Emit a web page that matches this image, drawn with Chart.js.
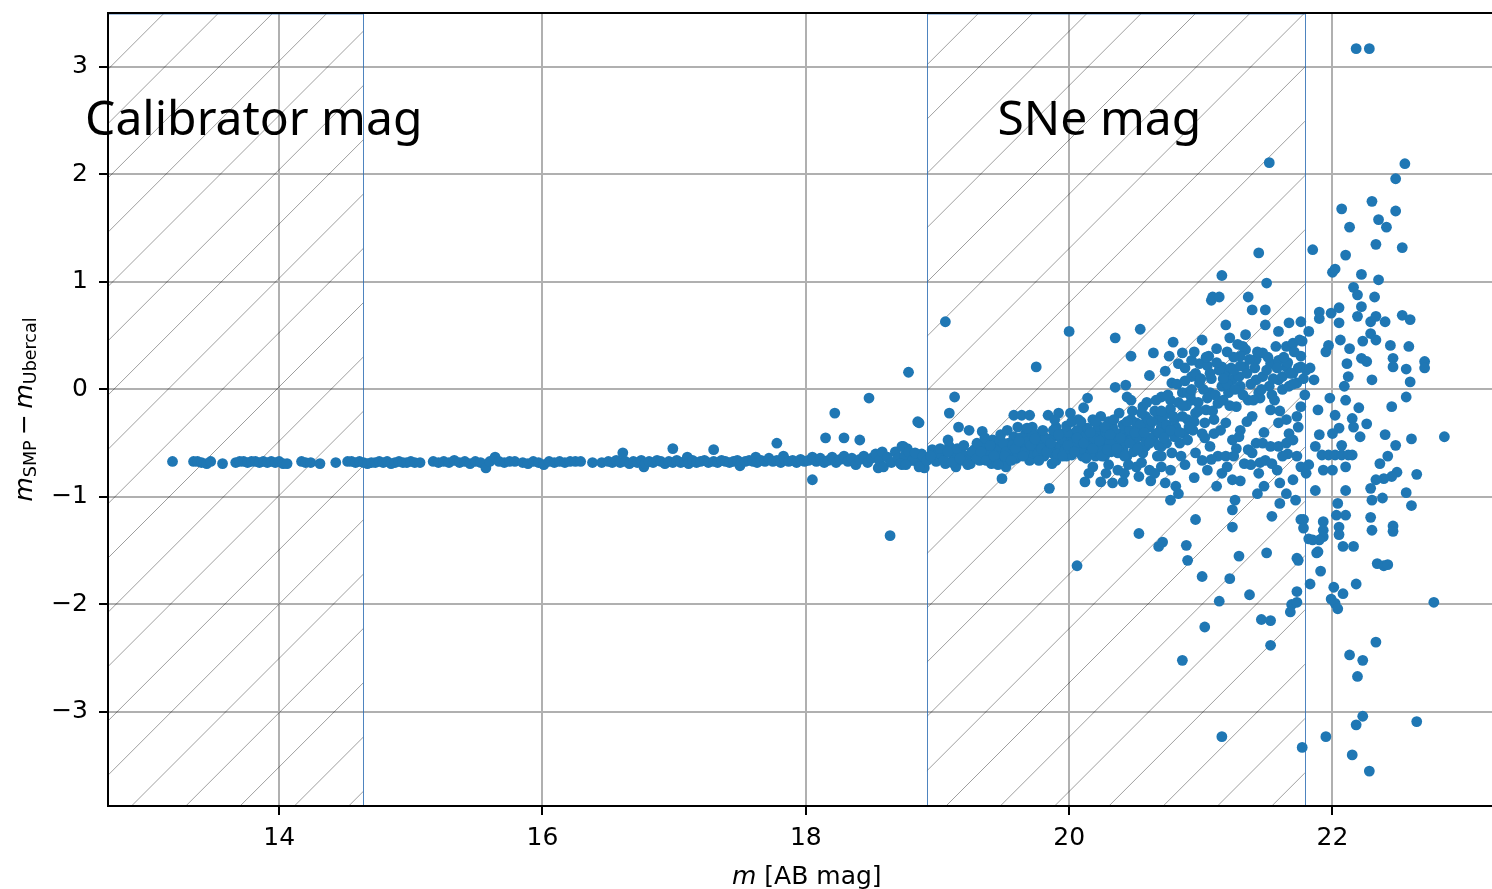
<!DOCTYPE html>
<html>
<head>
<meta charset="utf-8">
<style>
  html, body { margin: 0; padding: 0; background: #ffffff; overflow: hidden; }
  #wrap { width: 1492px; height: 889px; overflow: hidden; position: relative; }
  canvas { display: block; }
</style>
<script src="https://cdn.jsdelivr.net/npm/chart.js@4/dist/chart.umd.min.js"></script>
</head>
<body>
<div id="wrap"><canvas id="chart" width="1511" height="889"></canvas></div>
<script>
// ---- data: [m (AB mag), m_SMP - m_Ubercal] ----
const calibratorStars = [
  [13.19,-0.67],[13.35,-0.67],[13.38,-0.67],[13.41,-0.68],[13.45,-0.69],[13.48,-0.67],[13.57,-0.69],
  [13.67,-0.68],[13.70,-0.67],[13.73,-0.67],[13.76,-0.68],[13.79,-0.67],[13.82,-0.67],[13.85,-0.68],
  [13.88,-0.67],[13.91,-0.68],[13.94,-0.67],[13.97,-0.68],[14.00,-0.67],[14.03,-0.69],[14.06,-0.69],
  [14.17,-0.67],[14.20,-0.68],[14.24,-0.68],[14.31,-0.69],[14.43,-0.68],[14.52,-0.67],[14.55,-0.67],
  [14.58,-0.68],[14.61,-0.67],[14.64,-0.68],[14.67,-0.69],[14.70,-0.68],[14.73,-0.68],[14.76,-0.67],
  [14.79,-0.68],[14.82,-0.67],[14.85,-0.69],[14.88,-0.68],[14.91,-0.67],[14.94,-0.68],[14.97,-0.68],
  [15.00,-0.67],[15.03,-0.68],[15.07,-0.68],[15.17,-0.67],[15.21,-0.68],[15.25,-0.67],[15.29,-0.68],
  [15.33,-0.66],[15.37,-0.68],[15.41,-0.67],[15.45,-0.69],[15.49,-0.67],[15.53,-0.68],[15.57,-0.73],
  [15.60,-0.67],[15.64,-0.63],[15.67,-0.67],[15.71,-0.68],[15.75,-0.67],[15.79,-0.67],[15.85,-0.68],
  [15.89,-0.69],[15.93,-0.67],[15.97,-0.68],[16.01,-0.70],[16.05,-0.67],[16.09,-0.68],[16.13,-0.67],
  [16.17,-0.68],[16.21,-0.67],[16.25,-0.67],[16.29,-0.67],[16.38,-0.68],[16.45,-0.68]
];

const midStars = [
  [16.50,-0.67],[16.53,-0.68],[16.56,-0.66],[16.59,-0.68],[16.61,-0.59],[16.63,-0.67],[16.66,-0.69],
  [16.69,-0.67],[16.72,-0.68],[16.75,-0.66],[16.77,-0.72],[16.78,-0.69],[16.81,-0.67],[16.84,-0.68],
  [16.87,-0.66],[16.90,-0.67],[16.93,-0.69],[16.96,-0.67],[16.99,-0.55],[16.99,-0.68],[17.02,-0.66],
  [17.05,-0.68],[17.08,-0.67],[17.10,-0.63],[17.11,-0.69],[17.14,-0.66],[17.17,-0.68],[17.20,-0.67],
  [17.23,-0.66],[17.26,-0.68],[17.30,-0.56],[17.30,-0.67],[17.33,-0.68],[17.36,-0.66],[17.39,-0.67],
  [17.42,-0.68],[17.45,-0.67],[17.48,-0.66],[17.50,-0.71],[17.51,-0.68],[17.54,-0.67],[17.57,-0.66],
  [17.60,-0.67],[17.62,-0.63],[17.63,-0.68],[17.66,-0.66],[17.69,-0.67],[17.72,-0.64],[17.75,-0.67],
  [17.78,-0.50],[17.78,-0.66],[17.81,-0.68],[17.83,-0.62],[17.84,-0.65],[17.87,-0.67],[17.90,-0.66],
  [17.93,-0.68],[17.96,-0.65],[17.99,-0.67]
];

const transitionStars = [
  [18.02,-0.66],[18.05,-0.84],[18.05,-0.63],[18.08,-0.67],[18.11,-0.64],[18.14,-0.68],[18.15,-0.45],
  [18.17,-0.66],[18.20,-0.63],[18.22,-0.22],[18.23,-0.68],[18.26,-0.65],[18.29,-0.45],[18.29,-0.62],
  [18.32,-0.67],[18.35,-0.64],[18.38,-0.70],[18.41,-0.47],[18.41,-0.65],[18.44,-0.62],[18.47,-0.68],
  [18.48,-0.08],[18.50,-0.64],[18.53,-0.60],[18.55,-0.73],[18.56,-0.66],[18.58,-0.58],[18.59,-0.72],
  [18.62,-0.63],[18.64,-1.36],[18.65,-0.68],[18.68,-0.58],[18.70,-0.64],[18.73,-0.70],[18.74,-0.53],
  [18.76,-0.60],[18.77,-0.55],[18.79,-0.66],[18.82,-0.62],[18.85,-0.30],[18.85,-0.68],[18.88,-0.60],
  [18.90,-0.73],[18.78,0.16]
];

const sneCloud = [
  [18.73,-0.53],[18.75,-0.62],[18.78,-0.58],[18.81,-0.66],[18.83,-0.59],[18.86,-0.72],[18.89,-0.62],
  [18.92,-0.66],[18.72,-0.69],[18.76,-0.70],[18.86,-0.31],
  [18.96,-0.56],[18.99,-0.67],[19.04,-0.62],[19.06,-0.69],[19.09,-0.53],[19.12,-0.62],[19.14,-0.72],
  [19.09,-0.22],[19.13,-0.07],[19.08,-0.47],[19.01,-0.59],[18.95,-0.62],[19.06,0.63],
  [19.18,-0.59],[19.22,-0.62],[19.25,-0.69],[19.28,-0.56],[19.32,-0.66],[19.35,-0.53],[19.38,-0.59],
  [19.41,-0.69],[19.44,-0.53],[19.34,-0.39],[19.24,-0.38],[19.16,-0.35],[19.42,-0.47],[19.29,-0.62],
  [19.19,-0.66],
  [19.47,-0.56],[19.49,-0.66],[19.52,-0.72],[19.55,-0.59],[19.58,-0.44],[19.61,-0.35],[19.64,-0.53],
  [19.67,-0.41],[19.70,-0.66],[19.72,-0.59],[19.49,-0.83],[19.58,-0.24],[19.64,-0.24],[19.70,-0.24],
  [19.72,-0.35],[19.47,-0.47],[19.54,-0.50],[19.61,-0.62],[19.67,-0.50],[19.75,0.21],
  [19.75,-0.53],[19.78,-0.41],[19.81,-0.62],[19.84,-0.47],[19.87,-0.69],[19.90,-0.35],[19.92,-0.53],
  [19.95,-0.41],[19.98,-0.62],[20.01,-0.47],[19.84,-0.24],[19.92,-0.22],[20.01,-0.22],[19.85,-0.92],
  [19.87,-0.59],[20.02,-0.61],[19.80,-0.50],[19.88,-0.44],[19.97,-0.50],[20.00,0.54],[19.90,-0.66],
  [20.04,-0.41],[20.07,-0.50],[20.10,-0.35],[20.13,-0.56],[20.15,-0.47],[20.18,-0.28],[20.21,-0.53],
  [20.24,-0.41],[20.27,-0.62],[20.29,-0.47],[20.14,-0.08],[20.11,-0.17],[20.12,-0.86],[20.18,-0.72],
  [20.24,-0.86],[20.28,-0.78],[20.07,-0.28],[20.24,-0.25],[20.08,-0.44],[20.17,-0.53],[20.21,-0.38],
  [20.27,-0.53],[20.05,-0.56],[20.20,-0.62],[20.10,-0.62],
  [20.33,-0.35],[20.35,-0.47],[20.38,-0.22],[20.41,-0.56],[20.44,-0.41],[20.47,-0.28],[20.50,-0.50],
  [20.53,-0.38],[20.56,-0.59],[20.33,-0.87],[20.37,-0.75],[20.41,-0.86],[20.51,-0.72],[20.53,-0.81],
  [20.35,0.02],[20.43,0.04],[20.47,-0.10],[20.56,-0.16],[20.44,-0.07],[20.58,-0.25],[20.35,0.48],
  [20.54,0.56],[20.47,0.31],[20.31,-0.50],[20.40,-0.41],[20.44,-0.62],[20.48,-0.44],[20.56,-0.44],
  [20.37,-0.59],[20.58,-0.53],[20.51,-0.31],
  [20.61,-0.35],[20.64,-0.47],[20.67,-0.28],[20.70,-0.53],[20.73,-0.41],[20.76,-0.22],[20.78,-0.59],
  [20.81,-0.35],[20.84,-0.50],[20.61,0.13],[20.73,0.17],[20.70,-0.07],[20.77,-0.10],[20.86,-0.03],
  [20.61,-0.75],[20.70,-0.72],[20.73,-0.87],[20.77,-0.75],[20.81,-0.90],[20.83,-0.97],[20.77,-1.03],
  [20.87,-0.41],[20.78,0.06],[20.64,0.34],[20.79,0.44],[20.86,0.34],[20.76,0.31],[20.83,0.24],
  [20.66,-0.41],[20.74,-0.50],[20.70,-0.35],[20.80,-0.44],[20.67,-0.62],
  [20.90,-0.28],[20.93,-0.10],[20.96,-0.22],[20.99,0.06],[21.01,-0.41],[21.04,-0.19],[21.07,-0.03],
  [21.10,-0.28],[21.13,-0.13],[21.16,0.03],[20.90,-0.47],[20.96,-0.59],[21.01,-0.66],[21.07,-0.53],
  [21.13,-0.62],[21.16,-0.78],[20.99,0.24],[20.97,0.12],[20.93,0.27],[21.06,0.31],[21.01,0.46],
  [21.08,0.83],[21.16,0.21],[20.96,-1.21],[20.94,-0.38],[21.03,-0.31],[21.10,-0.41],[20.93,0.12],
  [20.90,-0.03],
  [21.19,0.15],[21.21,-0.03],[21.24,0.09],[21.27,-0.16],[21.30,0.03],[21.33,0.21],[21.36,-0.10],
  [21.39,-0.25],[21.42,0.09],[21.44,-0.03],[21.19,-0.31],[21.24,-0.47],[21.30,-0.38],[21.36,-0.56],
  [21.42,-0.50],[21.19,-0.62],[21.24,-0.84],[21.26,-1.03],[21.24,-1.12],[21.24,-1.28],[21.39,-0.59],
  [21.43,-0.97],[21.44,-0.78],[21.19,0.60],[21.22,0.48],[21.34,0.51],[21.39,0.74],[21.34,0.37],
  [21.42,0.28],[21.30,0.31],[21.29,-0.44],[21.33,-0.69],
  [21.47,0.12],[21.52,0.03],[21.56,-0.10],[21.59,0.09],[21.62,0.00],[21.65,0.21],[21.67,0.03],
  [21.70,0.15],[21.73,0.06],[21.76,0.31],[21.47,0.34],[21.53,0.24],[21.59,0.27],[21.65,0.40],
  [21.70,0.43],[21.75,0.46],[21.76,0.21],[21.49,0.74],[21.49,0.60],[21.59,0.54],[21.67,0.62],
  [21.76,0.63],[21.53,-0.19],[21.59,-0.31],[21.65,-0.28],[21.67,-0.41],[21.73,-0.25],[21.76,-0.16],
  [21.47,-0.50],[21.53,-0.53],[21.59,-0.53],[21.65,-0.50],[21.70,-0.47],[21.73,-0.62],[21.49,-0.66],
  [21.54,-0.69],[21.60,-0.87],[21.65,-0.97],[21.70,-0.84],[21.76,-0.72],[21.54,-1.18],[21.60,-1.06],
  [21.72,-1.03],[21.76,-1.21]
];

// the crowded core of the supernova-magnitude locus
const sneCore = [
  [19.30,-0.50],[19.36,-0.45],[19.40,-0.60],[19.45,-0.62],[19.50,-0.50],[19.52,-0.58],[19.57,-0.52],
  [19.60,-0.64],[19.63,-0.45],[19.66,-0.58],[19.69,-0.48],[19.72,-0.42],[19.76,-0.60],[19.79,-0.55],
  [19.82,-0.45],[19.85,-0.56],[19.88,-0.38],[19.91,-0.60],[19.94,-0.46],[19.97,-0.56],[19.99,-0.40],
  [20.03,-0.50],[20.06,-0.38],[20.09,-0.55],[20.12,-0.44],[20.14,-0.36],[20.16,-0.60],[20.19,-0.45],
  [20.22,-0.34],[20.25,-0.56],[20.28,-0.40],[20.30,-0.30],[20.32,-0.58],[20.35,-0.40],[20.38,-0.52],
  [20.41,-0.33],[20.43,-0.50],[20.46,-0.38],[20.49,-0.58],[20.51,-0.44],[20.54,-0.33],[20.57,-0.52],
  [20.60,-0.28],[20.62,-0.45],[20.65,-0.20],[20.68,-0.40],[20.71,-0.26],[20.74,-0.33],[20.77,-0.18],
  [20.80,-0.28],[20.83,-0.12],[20.86,-0.25],[20.89,-0.15],[20.92,-0.05],[20.95,-0.30],[20.98,-0.12],
  [21.02,0.00],[21.05,-0.08],[21.08,0.10],[21.11,-0.05],[21.14,0.18],[21.17,-0.10],[21.20,0.05],
  [21.23,0.20],[21.26,0.00],[21.29,0.12],[21.32,-0.05],[21.35,0.15],[21.38,0.05],[21.41,0.20],
  [21.45,-0.08],[21.50,0.18],[21.55,0.10],[21.58,0.20],[21.62,0.12],[21.66,0.25],[21.70,0.05],
  [21.74,0.20],[21.78,0.10],[20.88,0.20],[20.95,0.35],[21.05,0.22],[21.12,0.38],[21.25,0.30],
  [21.28,0.42],[20.30,-0.70],[20.42,-0.78],[20.55,-0.68],[20.62,-0.85],[20.70,-0.62],[20.88,-0.70],
  [20.95,-0.82],[21.05,-0.75],[21.12,-0.90],[21.20,-0.72],[21.30,-0.85],[21.38,-0.70],[21.48,-0.90],
  [21.58,-0.75],
  [19.02,-0.55],[19.05,-0.66],[19.08,-0.58],[19.11,-0.68],[19.15,-0.55],[19.17,-0.64],[19.20,-0.52],
  [19.23,-0.70],[19.26,-0.58],[19.30,-0.64],[19.33,-0.58],[19.37,-0.66],[19.40,-0.52],[19.43,-0.62],
  [19.46,-0.70],[19.48,-0.42],[19.51,-0.62],[19.53,-0.38],
  [19.56,-0.66],[19.59,-0.55],[19.62,-0.48],[19.65,-0.62],[19.68,-0.36],[19.71,-0.52],[19.74,-0.46],
  [19.77,-0.66],[19.80,-0.38],[19.83,-0.58],[19.86,-0.50],[19.89,-0.28],[19.92,-0.42],[19.95,-0.62],
  [19.98,-0.34],[19.99,-0.52],
  [20.02,-0.30],[20.04,-0.58],[20.06,-0.45],[20.09,-0.30],[20.11,-0.50],[20.13,-0.64],[20.16,-0.40],
  [20.18,-0.55],[20.20,-0.30],[20.23,-0.48],[20.25,-0.62],[20.27,-0.35],[20.29,-0.56],[20.31,-0.42],
  [20.34,-0.28],[20.36,-0.55],[20.39,-0.45],[20.42,-0.62],[20.44,-0.30],[20.46,-0.50],[20.48,-0.20],
  [20.50,-0.40],
  [20.52,-0.55],[20.55,-0.22],[20.57,-0.40],[20.59,-0.12],[20.61,-0.50],[20.63,-0.30],[20.66,-0.10],
  [20.68,-0.52],[20.70,-0.20],[20.72,-0.45],[20.75,-0.05],[20.77,-0.38],[20.79,-0.25],[20.82,0.05],
  [20.84,-0.40],[20.86,-0.15],[20.88,0.08],[20.91,-0.35],[20.93,0.00],[20.96,0.15],[20.98,-0.20],
  [21.00,0.10],[21.03,-0.45],[21.04,0.30],[21.07,0.15],[21.09,-0.20],[21.12,0.25],[21.15,-0.38],
  [21.17,0.10],[21.20,0.35],[21.22,-0.15],[21.25,0.18],[21.27,-0.55],[21.30,0.22],[21.32,0.40],
  [21.35,-0.30],[21.37,0.28],[21.40,-0.10],[21.43,0.35],[21.46,0.00],[21.48,-0.40],
  [21.51,0.30],[21.54,-0.05],[21.57,0.40],[21.60,-0.20],[21.63,0.30],[21.66,-0.60],[21.68,0.15],
  [21.71,0.35],[21.74,-0.35],[21.77,0.45],[21.79,-0.05],
  [20.15,-0.78],[20.45,-0.70],[20.65,-0.78],[20.85,-0.62],[21.08,-0.65],[21.25,-0.62],[21.45,-0.68],
  [21.62,-0.62]
];

const faintStars = [
  [21.80,0.18],[21.82,0.54],[21.83,0.20],[21.86,0.09],[21.89,-0.19],[21.90,0.72],[21.90,0.66],
  [21.99,0.71],[22.05,0.76],[22.05,0.62],[22.06,0.46],[21.97,0.41],[21.95,0.35],[22.13,0.38],
  [22.11,0.24],[22.12,0.12],[22.09,0.03],[22.19,0.68],[22.22,0.77],[22.23,0.45],[22.29,0.63],
  [22.33,0.68],[22.40,0.63],[22.29,0.52],[22.33,0.46],[22.44,0.41],[22.46,0.29],[22.46,0.21],
  [22.22,0.29],[22.26,0.26],[22.30,0.09],[22.53,0.69],[22.59,0.65],[22.58,0.40],[22.56,0.19],
  [22.59,0.07],[22.56,-0.07],[22.70,0.26],[22.70,0.20],[22.45,-0.16],[22.85,-0.44],[22.60,-0.46],
  [22.48,-0.52],[22.40,-0.42],[22.42,-0.62],[22.36,-0.69],[22.64,-0.79],[22.49,-0.77],[22.45,-0.81],
  [22.39,-0.83],[22.33,-0.84],[22.29,-0.92],[22.56,-0.96],[22.30,-1.03],[22.38,-1.01],[22.60,-1.08],
  [22.29,-1.19],[22.30,-1.31],[22.46,-1.27],[22.46,-1.32],[22.26,-0.32],[22.20,-0.17],[22.21,-0.44],
  [22.15,-0.27],[22.16,-0.35],[22.10,-0.10],[21.98,-0.08],[22.02,-0.24],[22.05,-0.36],[22.00,-0.41],
  [21.90,-0.42],[21.87,-0.53],[22.07,-0.52],[21.92,-0.61],[21.97,-0.61],[22.02,-0.61],[22.07,-0.61],
  [22.12,-0.61],[22.15,-0.61],[21.93,-0.75],[22.00,-0.75],[22.10,-0.72],[21.87,-0.94],[22.10,-0.94],
  [22.04,-1.06],[22.03,-1.17],[22.10,-1.17],[21.93,-1.23],[21.93,-1.31],[21.93,-1.37],[22.05,-1.28],
  [22.05,-1.35],[22.08,-1.46],[22.16,-1.46],[21.89,-1.51],[21.82,-1.39],[21.78,-1.21],[21.78,-1.29],
  [21.80,-0.78],[21.82,-0.70]
];

const upperOutliers = [
  [22.18,3.17],[22.28,3.17],[21.52,2.11],[22.55,2.10],[22.48,1.96],[22.30,1.75],[22.48,1.66],
  [22.07,1.68],[22.35,1.58],[22.41,1.51],[22.13,1.51],[22.33,1.35],[22.53,1.32],[21.85,1.30],
  [21.44,1.27],[22.10,1.25],[22.00,1.09],[22.02,1.12],[22.22,1.07],[22.35,1.02],[21.16,1.06],
  [21.50,0.99],[21.09,0.86],[21.14,0.86],[21.36,0.86],[22.16,0.95],[22.19,0.88],[22.32,0.86]
];

const lowerOutliers = [
  [20.06,-1.64],[20.68,-1.46],[20.71,-1.42],[20.89,-1.45],[20.90,-1.59],[21.01,-1.74],[20.86,-2.52],
  [21.03,-2.21],[21.14,-1.97],[21.16,-3.23],[21.22,-1.76],[21.29,-1.55],[21.37,-1.91],[21.46,-2.14],
  [21.53,-2.15],[21.53,-2.38],[21.50,-1.52],[21.74,-1.59],[21.73,-1.88],[21.69,-2.00],[21.73,-1.98],
  [21.68,-2.07],[21.77,-3.33],[21.83,-1.81],[21.88,-1.52],[21.91,-1.69],[21.95,-3.23],[22.01,-1.84],
  [21.99,-1.95],[22.02,-1.99],[22.04,-2.04],[22.08,-1.90],[22.18,-1.81],[22.13,-2.47],[22.23,-2.52],
  [22.19,-2.67],[22.23,-3.04],[22.18,-3.12],[22.15,-3.40],[22.28,-3.55],[22.33,-2.35],[22.34,-1.62],
  [22.39,-1.64],[22.42,-1.63],[22.64,-3.09],[22.77,-1.98],[20.53,-1.34],[21.73,-1.57],[21.90,-1.40],
  [21.85,-1.40]
];

const xTicks = [14, 16, 18, 20, 22];
const yTicks = [-3, -2, -1, 0, 1, 2, 3];

// magnitude ranges shaded with hatching: calibrators and supernovae
const hatchSpans = [[12.70, 14.64], [18.92, 21.79]];
const spanLabels = [
  { text: 'Calibrator mag', mag: 12.526, delta: 2.367 },
  { text: 'SNe mag', mag: 19.456, delta: 2.367 }
];

const allPoints = [].concat(calibratorStars, midStars, transitionStars, sneCloud, sneCore,
                            faintStars, upperOutliers, lowerOutliers)
                    .map(([m, d]) => ({ x: m, y: d }));

const FONT = '"DejaVu Sans", sans-serif';
const minus = v => (v < 0 ? '\u2212' + Math.abs(v) : String(v));

// draws a run of text pieces; sub pieces are smaller and dropped below the baseline
function drawRich(ctx, pieces, size, x0, y0, centered) {
  const fontOf = p => (p.italic ? 'italic ' : '') + (p.sub ? size * 0.7 : size) + 'px ' + FONT;
  let total = 0;
  const widths = pieces.map(p => { ctx.font = fontOf(p); const w = ctx.measureText(p.t).width + (p.pad || 0) * 2; total += w; return w; });
  let x = centered ? x0 - total / 2 : x0;
  pieces.forEach((p, i) => {
    ctx.font = fontOf(p);
    ctx.fillText(p.t, x + (p.pad || 0), y0 + (p.sub ? size * 0.16 : 0));
    x += widths[i];
  });
}

const decorations = {
  id: 'decorations',
  beforeDatasetsDraw(chart) {
    const { ctx, chartArea: a, scales: { x } } = chart;
    ctx.save();
    hatchSpans.forEach(([m0, m1]) => {
      const l = Math.max(a.left, x.getPixelForValue(m0));
      const r = x.getPixelForValue(m1);
      ctx.save();
      ctx.beginPath();
      ctx.rect(l, a.top, r - l, a.bottom - a.top);
      ctx.clip();
      ctx.strokeStyle = 'rgba(0,0,0,0.38)';
      ctx.lineWidth = 1;
      const step = 54.3, phase = 177.3;
      let c = phase + Math.ceil((l + a.top - phase) / step) * step;
      ctx.beginPath();
      for (; c <= r + a.bottom; c += step) {
        ctx.moveTo(c - a.top, a.top);
        ctx.lineTo(c - a.bottom, a.bottom);
      }
      ctx.stroke();
      ctx.restore();
      // span outline
      ctx.strokeStyle = 'rgba(47,110,180,0.85)';
      ctx.lineWidth = 1;
      ctx.strokeRect(Math.round(l) + 0.5, a.top + 1, Math.round(r) - Math.round(l), a.bottom - a.top - 1.5);
    });
    ctx.restore();
  },
  afterDraw(chart) {
    const { ctx, chartArea: a, scales: { x, y } } = chart;
    ctx.save();
    // axes frame
    ctx.strokeStyle = '#000';
    ctx.lineWidth = 2;
    ctx.strokeRect(a.left, a.top, a.right - a.left, a.bottom - a.top);

    // span labels
    ctx.fillStyle = '#000';
    ctx.textBaseline = 'alphabetic';
    ctx.textAlign = 'left';
    ctx.font = '48px "Noto Sans", sans-serif';
    spanLabels.forEach(s => ctx.fillText(s.text, x.getPixelForValue(s.mag), y.getPixelForValue(s.delta)));

    // x axis title
    drawRich(ctx, [{ t: 'm', italic: true }, { t: ' [AB mag]' }], 25, (a.left + a.right) / 2, 884, true);

    // y axis title
    ctx.save();
    ctx.translate(32, (a.top + a.bottom) / 2);
    ctx.rotate(-Math.PI / 2);
    drawRich(ctx, [
      { t: 'm', italic: true }, { t: 'SMP', sub: true },
      { t: '\u2212', pad: 5.5 },
      { t: 'm', italic: true }, { t: 'Ubercal', sub: true }
    ], 25, 0, 0, true);
    ctx.restore();
    ctx.restore();
  }
};

new Chart(document.getElementById('chart'), {
  type: 'scatter',
  data: {
    datasets: [{
      data: allPoints,
      pointRadius: 5.4,
      pointHoverRadius: 5.4,
      pointBackgroundColor: '#1f77b4',
      pointBorderWidth: 0
    }]
  },
  options: {
    responsive: false,
    animation: false,
    devicePixelRatio: 1,
    layout: { padding: { top: 13, right: 2, left: 0, bottom: 0 } },
    plugins: { legend: { display: false }, tooltip: { enabled: false } },
    scales: {
      x: {
        type: 'linear',
        min: 12.70,
        max: 23.315,
        afterBuildTicks: s => { s.ticks = xTicks.map(v => ({ value: v })); },
        afterFit: s => { s.height = 83; s.paddingLeft = 0; s.paddingRight = 0; },
        ticks: { color: '#000', font: { family: 'DejaVu Sans', size: 25 }, padding: 8, callback: v => minus(v), maxRotation: 0 },
        grid: { color: '#b0b0b0', lineWidth: 2, drawTicks: true, tickLength: 9, tickColor: '#000', tickWidth: 2 },
        border: { display: false }
      },
      y: {
        type: 'linear',
        min: -3.875,
        max: 3.502,
        afterBuildTicks: s => { s.ticks = yTicks.map(v => ({ value: v })); },
        afterFit: s => { s.width = 108; s.paddingTop = 0; s.paddingBottom = 0; },
        ticks: { color: '#000', font: { family: 'DejaVu Sans', size: 25 }, padding: 11, callback: v => minus(v) },
        grid: { color: '#b0b0b0', lineWidth: 2, drawTicks: true, tickLength: 9, tickColor: '#000', tickWidth: 2 },
        border: { display: false }
      }
    }
  },
  plugins: [decorations]
});
</script>
</body>
</html>
